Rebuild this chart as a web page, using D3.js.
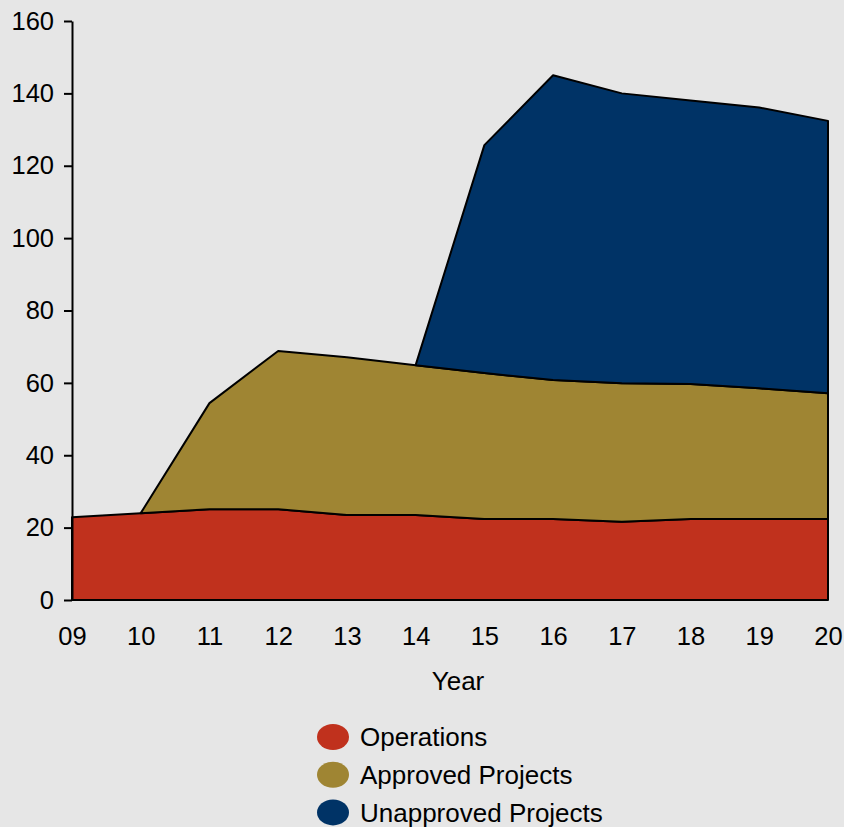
<!DOCTYPE html>
<html>
<head>
<meta charset="utf-8">
<script src="https://cdn.jsdelivr.net/npm/d3@7"></script>
<style>
  html, body { margin: 0; padding: 0; background: #e6e6e6; }
  svg { display: block; font-family: "Liberation Sans", Arial, sans-serif; }
</style>
</head>
<body>
<svg id="chart" width="844" height="827"></svg>
<script>
// Fiscal years (two-digit labels)
const years = ["09", "10", "11", "12", "13", "14", "15", "16", "17", "18", "19", "20"];

// Series values; null means the series has not started yet
const operations = [22.9, 24.0, 25.1, 25.1, 23.5, 23.5, 22.4, 22.4, 21.6, 22.4, 22.4, 22.4];
const approvedProjects = [null, 0, 29.3, 43.7, 43.6, 41.4, 40.3, 38.4, 38.3, 37.3, 36.1, 34.7];
const unapprovedProjects = [null, null, null, null, null, 0, 63.0, 84.2, 80.1, 78.3, 77.6, 75.3];

const yTicks = [0, 20, 40, 60, 80, 100, 120, 140, 160];

const seriesNames = ["Operations", "Approved Projects", "Unapproved Projects"];
const seriesColors = ["#c0311d", "#9f8533", "#003366"];

const rows = years.map((y, i) => ({
  year: y,
  "Operations": operations[i],
  "Approved Projects": approvedProjects[i],
  "Unapproved Projects": unapprovedProjects[i]
}));

const svg = d3.select("#chart");
const fontSize = 26;
const tickFont = 25.5;

const x = d3.scalePoint().domain(years).range([72, 828]);
const y = d3.scaleLinear().domain([0, 160]).range([600, 21]);
const color = d3.scaleOrdinal().domain(seriesNames).range(seriesColors);

const stacked = d3.stack()
  .keys(seriesNames)
  .value((d, k) => d[k] == null ? 0 : d[k])(rows);

const area = key => d3.area()
  .defined(d => d.data[key] != null)
  .x(d => x(d.data.year))
  .y0(d => y(d[0]))
  .y1(d => y(d[1]));

svg.append("g")
  .selectAll("path")
  .data(stacked)
  .join("path")
  .attr("d", s => area(s.key)(s))
  .attr("fill", s => color(s.key))
  .attr("stroke", "#000")
  .attr("stroke-width", 2)
  .attr("stroke-linejoin", "round");

// Y axis
const yAxis = svg.append("g")
  .attr("transform", "translate(72,0)")
  .call(d3.axisLeft(y).tickValues(yTicks).tickSize(8).tickSizeOuter(0).tickPadding(10));
yAxis.select(".domain").attr("stroke", "#000").attr("stroke-width", 2);
yAxis.selectAll(".tick line").attr("stroke", "#000").attr("stroke-width", 2);
yAxis.selectAll("text").attr("font-size", tickFont).attr("fill", "#000")
  .style("font-family", "'Liberation Sans', Arial, sans-serif");

// X axis (labels only)
const xAxis = svg.append("g")
  .attr("transform", "translate(0,600)")
  .call(d3.axisBottom(x).tickSize(0).tickPadding(27));
xAxis.select(".domain").remove();
xAxis.selectAll("text").attr("font-size", tickFont).attr("fill", "#000")
  .style("font-family", "'Liberation Sans', Arial, sans-serif");

svg.append("text")
  .attr("x", 458)
  .attr("y", 689.5)
  .attr("text-anchor", "middle")
  .attr("font-size", fontSize)
  .attr("fill", "#000")
  .text("Year");

// Legend
const legend = svg.append("g")
  .selectAll("g")
  .data(seriesNames)
  .join("g")
  .attr("transform", (d, i) => `translate(333,${737 + i * 37.7})`);
legend.append("ellipse")
  .attr("rx", 16)
  .attr("ry", 13)
  .attr("fill", d => color(d));
legend.append("text")
  .attr("x", 27)
  .attr("dy", "0.35em")
  .attr("font-size", fontSize)
  .attr("fill", "#000")
  .text(d => d);
</script>
</body>
</html>
